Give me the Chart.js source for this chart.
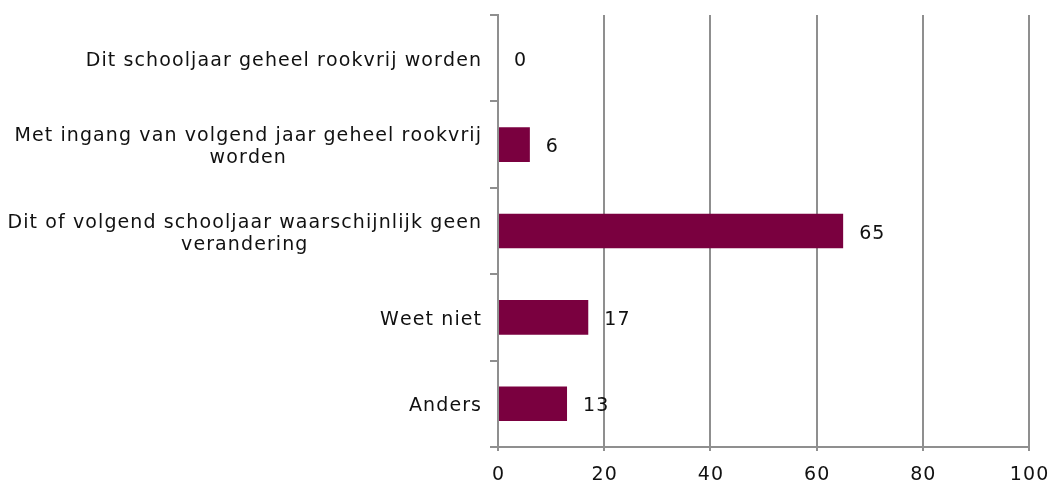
<!DOCTYPE html>
<html><head><meta charset="utf-8">
<script src="https://cdn.jsdelivr.net/npm/chart.js@4"></script>
<style>html,body{margin:0;padding:0;background:#fff}canvas{display:block}</style>
</head><body>
<canvas id="c" width="1053" height="482"></canvas>
<script>
const categories = [
  ["Dit schooljaar geheel rookvrij worden"],
  ["Met ingang van volgend jaar geheel rookvrij", "worden"],
  ["Dit of volgend schooljaar waarschijnlijk geen", "verandering"],
  ["Weet niet"],
  ["Anders"]
];
const values = [0, 6, 65, 17, 13];
const xTicks = [0, 20, 40, 60, 80, 100];

const FONT = '"DejaVu Sans", sans-serif';
const LS = 1.1;

function spacedText(ctx, text, xLeft, yBase) {
  let xx = xLeft;
  for (const ch of text) {
    ctx.fillText(ch, xx, yBase);
    xx += ctx.measureText(ch).width + LS;
  }
}
function spacedWidth(ctx, text) {
  let w = 0, n = 0;
  for (const ch of text) { w += ctx.measureText(ch).width; n++; }
  return w + LS * Math.max(0, n - 1);
}

const labelPlugin = {
  id: 'labels',
  afterDraw(chart) {
    const ctx = chart.ctx;
    const y = chart.scales.y, x = chart.scales.x;
    ctx.save();
    ctx.font = '19px ' + FONT;
    ctx.fillStyle = '#111';
    ctx.textBaseline = 'alphabetic';
    ctx.textAlign = 'left';
    categories.forEach((lines, i) => {
      const cy = y.getPixelForTick(i);
      const widths = lines.map(l => spacedWidth(ctx, l));
      const maxW = Math.max(...widths);
      const right = y.right - 17;
      const lh = 22;
      const b0 = cy + 7.5 - (lines.length - 1) * lh / 2;
      lines.forEach((l, k) => {
        spacedText(ctx, l, right - maxW / 2 - widths[k] / 2, b0 + k * lh);
      });
    });
    const meta = chart.getDatasetMeta(0);
    meta.data.forEach((bar, i) => {
      spacedText(ctx, String(values[i]), x.getPixelForValue(values[i]) + 16, bar.y + 7.5);
    });
    xTicks.forEach(v => {
      const t = String(v);
      const w = spacedWidth(ctx, t);
      spacedText(ctx, t, x.getPixelForValue(v) - w / 2, x.top + 33);
    });
    ctx.restore();
  }
};

new Chart(document.getElementById('c'), {
  type: 'bar',
  data: {
    labels: categories,
    datasets: [{
      data: values,
      backgroundColor: '#7a003f',
      borderWidth: 0,
      barPercentage: 0.4,
      categoryPercentage: 1.0
    }]
  },
  options: {
    indexAxis: 'y',
    responsive: false,
    animation: false,
    layout: { padding: { top: 15, right: 24, left: 0, bottom: 0 } },
    plugins: { legend: { display: false }, tooltip: { enabled: false } },
    scales: {
      x: {
        min: 0, max: 100,
        afterBuildTicks(s) { s.ticks = xTicks.map(v => ({ value: v })); },
        afterFit(s) { s.height = 35; },
        grid: { color: '#8f8f8f', lineWidth: 2, tickLength: 4, drawTicks: true },
        border: { color: '#8f8f8f', width: 2 },
        ticks: { display: false }
      },
      y: {
        afterFit(s) { s.width = 498; },
        grid: { drawOnChartArea: false, offset: true, color: '#8f8f8f', lineWidth: 2, tickLength: 8 },
        border: { color: '#8f8f8f', width: 2 },
        ticks: { display: false }
      }
    }
  },
  plugins: [labelPlugin]
});
</script>
</body></html>
